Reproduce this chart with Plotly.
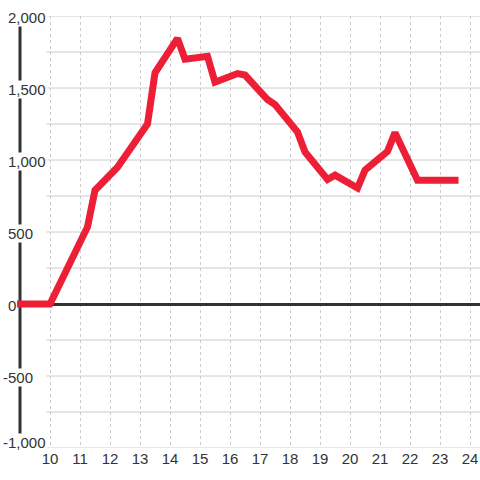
import plotly.graph_objects as go

# ---- data ----
hours = [9, 10, 11.25, 11.5, 12.25, 13.25, 13.5, 14.25, 14.5, 15.25, 15.5, 16.25, 16.5,
         17.25, 17.5, 18.25, 18.5, 19.25, 19.5, 20.25, 20.5, 21.25, 21.5, 22.25, 23.5]
values = [0, 0, 535, 790, 950, 1250, 1605, 1845, 1700, 1720, 1540, 1600, 1590,
          1420, 1385, 1195, 1055, 865, 895, 805, 930, 1060, 1190, 860, 860]

x_tick_vals = list(range(10, 25))
x_tick_text = [str(v) for v in x_tick_vals]
y_tick_vals = [-1000, -500, 0, 500, 1000, 1500, 2000]
y_tick_text = ["-1,000", "-500", "0", "500", "1,000", "1,500", "2,000"]
y_grid_vals = [-1000, -750, -500, -250, 250, 500, 750, 1000, 1250, 1500, 1750, 2000]

# ---- style ----
RED = "#ED1F37"
DARK = "#333333"
GRID = "#cccccc"
FONT = "Liberation Sans, Arial, sans-serif"
FS = 15
X_MIN, X_MAX = 8.9, 24.333
Y_MIN, Y_MAX = -1000, 2000

fig = go.Figure()
fig.add_trace(go.Scatter(x=hours, y=values, mode="lines",
                         line=dict(color=RED, width=7), hoverinfo="skip"))

shapes = []
for g in y_grid_vals:
    shapes.append(dict(type="line", xref="x", yref="y", x0=9.88, x1=X_MAX, y0=g, y1=g,
                       line=dict(color=GRID, width=1), layer="between"))
# vertical axis line
shapes.append(dict(type="line", xref="x", yref="y", x0=9, x1=9, y0=Y_MIN, y1=Y_MAX,
                   line=dict(color=DARK, width=3), layer="between"))

annotations = []
for v, t in zip(y_tick_vals, y_tick_text):
    annotations.append(dict(xref="paper", yref="y", x=0, y=v, text=t,
                            xanchor="left", yanchor="middle", showarrow=False,
                            xshift=-15 if v < 0 else -10,
                            yshift=6 if v == Y_MIN else -1,
                            bgcolor="white", borderpad=0,
                            font=dict(family=FONT, size=FS, color=DARK)))

fig.update_layout(
    width=480, height=480,
    margin=dict(l=17, r=0, t=16, b=32),
    paper_bgcolor="white", plot_bgcolor="white",
    showlegend=False,
    shapes=shapes, annotations=annotations,
    font=dict(family=FONT, size=FS, color=DARK),
)
fig.update_xaxes(range=[X_MIN, X_MAX], tickvals=x_tick_vals, ticktext=x_tick_text,
                 showgrid=True, gridcolor=GRID, gridwidth=1, griddash="dot",
                 zeroline=False, showline=False, ticks="",
                 tickfont=dict(family=FONT, size=FS, color=DARK))
fig.update_yaxes(range=[Y_MIN, Y_MAX], showgrid=False, showticklabels=False,
                 zeroline=True, zerolinecolor=DARK, zerolinewidth=3,
                 showline=False, ticks="")

post = (
    "document.body.style.margin='0';document.body.style.overflow='hidden';"
    "document.querySelectorAll('.scatterlayer path.js-line').forEach(function(p){"
    "p.style.strokeLinecap='square';});"
)
fig.write_html("out.html", config={"displayModeBar": False}, post_script=post)
